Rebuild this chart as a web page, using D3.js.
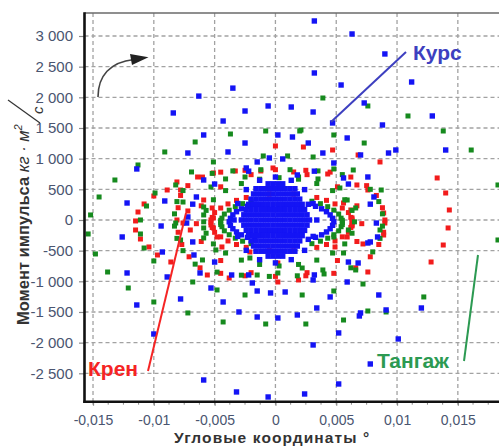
<!DOCTYPE html>
<html>
<head>
<meta charset="utf-8">
<script src="https://cdn.jsdelivr.net/npm/d3@7"></script>
<style>
  html, body { margin: 0; padding: 0; background: #ffffff; }
  svg { display: block; }
  text { font-family: "Liberation Sans", Arial, sans-serif; }
</style>
</head>
<body>
<svg id="chart" width="499" height="446"></svg>
<script>
// Tick values and their printed labels
const xTicks = [-0.015, -0.01, -0.005, 0, 0.005, 0.01, 0.015];
const xTickLabels = ["-0,015", "-0,01", "-0,005", "0", "0,005", "0,01", "0,015"];
const yTicks = [-2500, -2000, -1500, -1000, -500, 0, 500, 1000, 1500, 2000, 2500, 3000];
const yTickLabels = ["-2 500", "-2 000", "-1 500", "-1 000", "-500", "0", "500", "1 000", "1 500", "2 000", "2 500", "3 000"];

const seriesNames = ["Курс", "Крен", "Тангаж"];

// Курс: [angle, angular momentum]
const kursPoints = [
  [0.0032,3245],[0.0063,3033],[0.0090,2707],[0.0032,2397],[0.0054,2201],[0.0112,2250],[0.0073,1908],
  [0.0031,1761],[0.0129,1696],[0.0047,1582],[0.0088,1549],[0.0059,1337],[0.0027,1255],[0.0099,1141],
  [0.0140,1141],[-0.0084,1745],[-0.0043,1614],[-0.0006,1859],[0.0013,1842],[-0.0025,1777],[-0.0059,1386],
  [-0.0025,1255],[0.0002,1386],[0.0014,1353],[-0.0072,1092],[-0.0039,1109],[0.0039,1092],[0.0048,929],
  [0.0070,1060],[0.0093,1092],[-0.0015,946],[-0.0005,1011],[0.0006,995],[-0.0024,848],[-0.0059,652],
  [0.0076,701],[0.0056,685],[0.0018,734],[-0.0065,375],[0.0081,375],[-0.0072,49],[0.0084,-277],
  [-0.0067,-571],[0.0076,-375],[0.0068,-701],[-0.0062,-864],[-0.0036,-897],[0.0059,-1011],[0.0031,-978],
  [-0.0053,-1109],[-0.0019,-1027],[0.0008,-1174],[-0.0015,-1158],[-0.0004,-1190],[-0.0078,-1288],
  [-0.0043,-1337],[0.0085,-1223],[-0.0030,-1500],[0.0034,-1435],[-0.0015,-1582],[0.0002,-1598],
  [0.0018,-1549],[0.0045,-1255],[0.0070,-1516],[0.0091,-1467],
  [-0.0059,-2609],[-0.0032,-2804],[-0.0006,-2886],[0.0024,-2837],[0.0052,-2674],[0.0120,-1435],
  [0.0069,-1565],[0.0052,-1842],[0.0031,-2038],[0.0101,-1940],[0.0078,-2348],
  [-0.0114,832],[-0.0122,277],[-0.0094,-98],[-0.0126,-277],[-0.0093,-522],[-0.0122,-864],[-0.0091,310],
  [-0.0089,-929],[-0.0114,-1386],[-0.0100,-1859],[-0.0063,2020],[-0.0035,2150],
  // inner lens
  [0.0048,-30],[0.0047,27],[0.0045,83],[0.0042,135],[0.0038,182],[0.0033,223],[0.0027,256],
  [-0.0017,256],[-0.0023,223],[-0.0028,182],[-0.0032,135],[-0.0035,83],[-0.0037,27],[-0.0038,-30],
  [-0.0037,-87],[-0.0035,-143],[-0.0032,-195],[-0.0028,-242],[-0.0023,-283],[-0.0017,-316],
  [0.0027,-316],[0.0033,-283],[0.0038,-242],[0.0042,-195],[0.0045,-143],[0.0047,-87],
  // edge of the core
  [0.0034,0],[0.0031,268],[0.0024,495],[0.0013,647],[0,700],[-0.0013,647],[-0.0024,495],[-0.0031,268],
  [-0.0034,0],[-0.0031,-268],[-0.0024,-495],[-0.0013,-647],[0,-700],[0.0013,-647],[0.0024,-495],[0.0031,-268],
  // second loop
  [0.0078,258],[0.0060,586],[0.0032,796],[-0.0022,796],[-0.0050,586],[-0.0068,258],[-0.0068,-358],
  [-0.0050,-686],[-0.0022,-896],[0.0032,-896],[0.0060,-686],[0.0078,-358],[0.0083,-50],[-0.0073,-50]
];

// Курс, dense core around the origin: [momentum, [angles...]]
const kursCoreRows = [
  [590, [-0.0006,-0.0002,0.0002,0.0006]],
  [510, [-0.0016,-0.0012,-0.0008,-0.0004,0,0.0004,0.0008,0.0012,0.0016]],
  [425, [-0.0018,-0.0014,-0.0010,-0.0006,-0.0002,0.0002,0.0006,0.0010,0.0014,0.0018]],
  [340, [-0.0020,-0.0016,-0.0012,-0.0008,-0.0004,0,0.0004,0.0008,0.0012,0.0016,0.0020]],
  [255, [-0.0022,-0.0018,-0.0014,-0.0010,-0.0006,-0.0002,0.0002,0.0006,0.0010,0.0014,0.0018,0.0022]],
  [170, [-0.0024,-0.0020,-0.0016,-0.0012,-0.0008,-0.0004,0,0.0004,0.0008,0.0012,0.0016,0.0020,0.0024]],
  [85, [-0.0026,-0.0022,-0.0018,-0.0014,-0.0010,-0.0006,-0.0002,0.0002,0.0006,0.0010,0.0014,0.0018,0.0022,0.0026]],
  [0, [-0.0028,-0.0024,-0.0020,-0.0016,-0.0012,-0.0008,-0.0004,0,0.0004,0.0008,0.0012,0.0016,0.0020,0.0024,0.0028]],
  [-85, [-0.0026,-0.0022,-0.0018,-0.0014,-0.0010,-0.0006,-0.0002,0.0002,0.0006,0.0010,0.0014,0.0018,0.0022,0.0026]],
  [-170, [-0.0024,-0.0020,-0.0016,-0.0012,-0.0008,-0.0004,0,0.0004,0.0008,0.0012,0.0016,0.0020,0.0024]],
  [-255, [-0.0022,-0.0018,-0.0014,-0.0010,-0.0006,-0.0002,0.0002,0.0006,0.0010,0.0014,0.0018,0.0022]],
  [-340, [-0.0020,-0.0016,-0.0012,-0.0008,-0.0004,0,0.0004,0.0008,0.0012,0.0016,0.0020]],
  [-425, [-0.0018,-0.0014,-0.0010,-0.0006,-0.0002,0.0002,0.0006,0.0010,0.0014,0.0018]],
  [-510, [-0.0016,-0.0012,-0.0008,-0.0004,0,0.0004,0.0008,0.0012,0.0016]],
  [-590, [-0.0006,-0.0002,0.0002,0.0006]]
];

// Крен
const krenPoints = [
  [0.0023,1190],[0.0047,1141],[0,1207],[-0.0051,766],[-0.0033,799],[-0.0012,799],[-0.0002,848],
  [0.0015,783],[0.0043,750],[-0.0081,620],[-0.0064,701],[0.0067,571],[0.0076,489],[0.0086,946],
  [0.0068,1060],[-0.0078,489],[-0.0059,326],[-0.0052,196],[0.0056,277],[0.0062,163],[-0.0051,33],
  [0.0063,33],[-0.0051,-130],[0.0063,-98],[-0.0048,-277],[0.0059,-277],[-0.0044,-440],[0.0049,-440],
  [0.0089,114],[0.0090,-49],[0.0089,-245],[0.0072,-391],[-0.0056,-897],[-0.0038,-946],[-0.0021,-522],
  [0.0002,-701],[0.0019,-978],[0.0002,-1011],[0.0076,-848],[-0.0072,147],[-0.0076,-49],[-0.0070,-163],
  [-0.0089,489],[-0.0108,261],[-0.0113,130],[-0.0115,-16],[-0.0115,-163],[-0.0111,-310],[-0.0104,-440],
  [-0.0100,391],[-0.0097,-571],[-0.0086,-685],
  [0.0133,685],[0.0140,440],[0.0143,163],[0.0142,-130],[0.0138,-408],[0.0128,-685],
  // inner lens
  [0.0063,-40],[0.0063,1],[0.0062,42],[0.0060,121],[0.0055,195],[0.0049,262],[0.0042,320],[0.0034,367],
  [0.0015,423],[-0.0005,423],[-0.0024,367],[-0.0032,320],[-0.0039,262],[-0.0045,195],[-0.0050,121],
  [-0.0052,42],[-0.0053,1],[-0.0053,-40],[-0.0053,-81],[-0.0052,-122],[-0.0050,-201],[-0.0045,-275],
  [-0.0039,-342],[-0.0032,-400],[-0.0024,-447],[-0.0005,-503],[0.0015,-503],[0.0034,-447],[0.0042,-400],
  [0.0049,-342],[0.0055,-275],[0.0060,-201],[0.0062,-122],[0.0063,-81],
  // middle loop
  [0.0071,-60],[0.0067,231],[0.0051,541],[0.0026,739],[-0.0020,739],[-0.0045,541],[-0.0061,231],
  [-0.0065,-60],[-0.0061,-351],[-0.0045,-661],[-0.0020,-859],[0.0026,-859],[0.0051,-661],[0.0067,-351],
  // outer loop
  [-0.0060,700],[-0.0045,780],[-0.0025,810],[0,820],[0.0025,810],[0.0045,780],[0.0062,700],
  [-0.0072,560],[-0.0078,400],[-0.0080,200],[-0.0081,0],[-0.0080,-200],[-0.0077,-400],[-0.0071,-600],
  [0.0075,560],[0.0083,400],[0.0088,200],[0.0090,0],[0.0089,-200],[0.0085,-400],[0.0078,-600],
  [-0.0062,-780],[-0.0045,-870],[-0.0025,-910],[0,-920],[0.0025,-910],[0.0048,-870],[0.0066,-780]
];

// Тангаж
const tangazhPoints = [
  [0.0039,1989],[0.0076,1859],[0.0109,1696],[0.0138,1451],[0.0048,1386],[0.0073,1255],[0.0161,1141],
  [0.0021,1467],[-0.0037,1402],[-0.0008,1451],[0.0020,1451],[-0.0066,1272],[-0.0051,946],[0.0064,815],
  [-0.0010,1044],[0.0010,1044],[0.0031,1027],[-0.0069,783],[-0.0041,669],[-0.0025,701],[0.0019,701],
  [0.0035,669],[0.0048,832],[0.0087,489],[-0.0082,571],[-0.0053,538],[0.0053,522],[-0.0076,293],
  [-0.0059,212],[0.0059,326],[0.0066,196],[-0.0082,-49],[-0.0059,82],[-0.0059,-130],[0.0060,-163],
  [0.0086,-163],[-0.0078,-326],[-0.0059,-293],[0.0048,-277],[-0.0049,-489],[0.0056,-538],[-0.0060,-652],
  [0.0039,-815],[-0.0021,-620],[0.0066,-815],[-0.0068,-1011],[-0.0015,-897],[0.0002,-864],[0.0022,-783],
  [-0.0048,-1141],[0.0048,-1158],[-0.0025,-1223],[0.0022,-1223],[0.0072,-1044],[-0.0072,-1516],
  [-0.0008,-1696],[-0.0043,-1663],[0.0056,-1631],[0.0076,-1484],[0.0122,-1255],[0.0091,-1500],
  [0.0025,-1696],
  [-0.0113,897],[-0.0091,1109],[-0.0132,652],[-0.0145,375],[-0.0106,228],[-0.0152,82],[-0.0111,0],
  [-0.0154,-228],[-0.0111,-228],[-0.0108,-457],[-0.0148,-554],[-0.0099,440],[-0.0100,-668],
  [-0.0138,-848],[-0.0121,-1109],[-0.0100,-1337],
  [0.0183,571],[0.0183,-326],
  // inner lens
  [0.0055,-40],[0.0055,-5],[0.0054,30],[0.0052,97],[0.0048,160],[0.0043,217],[0.0037,266],[0.0030,306],
  [-0.0020,306],[-0.0027,266],[-0.0033,217],[-0.0038,160],[-0.0042,97],[-0.0044,30],[-0.0045,-5],
  [-0.0045,-40],[-0.0045,-75],[-0.0044,-110],[-0.0042,-177],[-0.0038,-240],[-0.0033,-297],[-0.0027,-346],
  [-0.0020,-386],[0.0030,-386],[0.0037,-346],[0.0043,-297],[0.0048,-240],[0.0052,-177],[0.0054,-110],
  [0.0055,-75],
  // middle loop
  [0.0065,-30],[0.0063,156],[0.0057,330],[0.0047,479],[0.0034,594],[0.0019,665],[0.0003,690],
  [-0.0013,665],[-0.0028,594],[-0.0041,479],[-0.0051,330],[-0.0057,156],[-0.0059,-30],[-0.0057,-216],
  [-0.0051,-390],[-0.0041,-539],[-0.0028,-654],[-0.0013,-725],[0.0003,-750],[0.0019,-725],[0.0034,-654],
  [0.0047,-539],[0.0057,-390],[0.0063,-216],
  // outer loop
  [-0.0052,760],[-0.0035,800],[-0.0012,820],[0.0012,820],[0.0035,800],[0.0055,740],
  [-0.0076,480],[-0.0081,300],[-0.0083,100],[-0.0083,-100],[-0.0081,-300],[-0.0076,-500],
  [0.0078,500],[0.0085,300],[0.0088,100],[0.0088,-100],[0.0086,-300],[0.0080,-520],
  [-0.0066,-720],[-0.0048,-850],[-0.0028,-900],[-0.0005,-920],[0.0018,-910],[0.0040,-880],[0.0062,-780]
];

const colors = { "Курс": "#1414f5", "Крен": "#f21c1c", "Тангаж": "#168a1e" };
const labelColors = { "Курс": "#3d3fc0", "Крен": "#f52424", "Тангаж": "#2c9a52" };
const fontFamily = "'Liberation Sans', Arial, sans-serif";

const svg = d3.select("#chart");
const plot = { left: 84.5, top: 13, right: 515, bottom: 401.7 };

const x = d3.scaleLinear().domain([-0.0157, 0.0197]).range([plot.left, plot.right]);
const y = d3.scaleLinear().domain([-2963, 3375]).range([plot.bottom, plot.top]);

svg.append("defs").append("clipPath").attr("id", "plotClip")
  .append("rect")
  .attr("x", plot.left).attr("y", plot.top)
  .attr("width", plot.right - plot.left).attr("height", plot.bottom - plot.top);

// dashed grid
const grid = svg.append("g").attr("stroke", "#a2a2a2").attr("stroke-width", 1.3)
  .attr("stroke-dasharray", "4,3");
grid.selectAll("line.v").data(xTicks).join("line").attr("class", "v")
  .attr("x1", d => x(d)).attr("x2", d => x(d))
  .attr("y1", plot.top).attr("y2", plot.bottom);
grid.selectAll("line.h").data(yTicks).join("line").attr("class", "h")
  .attr("x1", plot.left).attr("x2", plot.right)
  .attr("y1", d => y(d)).attr("y2", d => y(d));

// markers
const kursAll = kursPoints.concat(kursCoreRows.flatMap(([m, xs]) => xs.map(a => [a, m])));
const series = [
  { name: "Крен", pts: krenPoints, size: 5 },
  { name: "Тангаж", pts: tangazhPoints, size: 5 },
  { name: "Курс", pts: kursAll, size: 5.4 }
];
const marks = svg.append("g").attr("clip-path", "url(#plotClip)");
series.forEach(s => {
  marks.append("g").attr("fill", colors[s.name])
    .selectAll("rect").data(s.pts).join("rect")
    .attr("x", d => x(d[0]) - s.size / 2)
    .attr("y", d => y(d[1]) - s.size / 2)
    .attr("width", s.size).attr("height", s.size);
});

// axes
const tickColor = "#4a5570";
const yAxis = svg.append("g").attr("transform", `translate(${plot.left - 0.5},0)`)
  .call(d3.axisLeft(y).tickValues(yTicks).tickFormat((d, i) => yTickLabels[i])
    .tickSize(5).tickPadding(6));
yAxis.attr("font-size", 15).attr("font-family", fontFamily);
yAxis.select(".domain").remove();
yAxis.selectAll(".tick line").attr("stroke", "#8a8a8a").attr("stroke-width", 1.2);
yAxis.selectAll(".tick text").attr("fill", tickColor).attr("font-size", 15);

const xAxis = svg.append("g").attr("transform", `translate(0,${plot.bottom})`)
  .call(d3.axisBottom(x).tickValues(xTicks).tickFormat((d, i) => xTickLabels[i])
    .tickSize(4).tickPadding(9));
xAxis.attr("font-size", 14).attr("font-family", fontFamily);
xAxis.select(".domain").remove();
xAxis.selectAll(".tick line").attr("stroke", "#8a8a8a").attr("stroke-width", 1.2);
xAxis.selectAll(".tick text").attr("fill", tickColor).attr("font-size", 14);

// minor ticks along the bottom
const minor = d3.range(-0.015, 0.0196, 0.00125);
svg.append("g").attr("stroke", "#8a8a8a").attr("stroke-width", 1)
  .selectAll("line").data(minor).join("line")
  .attr("x1", d => x(d)).attr("x2", d => x(d))
  .attr("y1", plot.bottom).attr("y2", plot.bottom + 3);

// frame
svg.append("line").attr("x1", plot.left).attr("x2", 499).attr("y1", plot.top).attr("y2", plot.top)
  .attr("stroke", "#6a6a6a").attr("stroke-width", 1.5);
svg.append("line").attr("x1", plot.left).attr("x2", plot.left).attr("y1", plot.top - 0.7).attr("y2", plot.bottom + 1.2)
  .attr("stroke", "#111").attr("stroke-width", 2.6);
svg.append("line").attr("x1", plot.left - 1.2).attr("x2", 499).attr("y1", plot.bottom).attr("y2", plot.bottom)
  .attr("stroke", "#111").attr("stroke-width", 2.6);

// axis titles
svg.append("text").attr("x", 174).attr("y", 442.5)
  .attr("font-size", 15.5).attr("font-weight", "bold").attr("letter-spacing", 1.1).attr("fill", "#333")
  .text("Угловые координаты °");

const yt = svg.append("text").attr("transform", "translate(29,325) rotate(-90)")
  .attr("fill", "#333").attr("font-size", 16.5);
yt.append("tspan").attr("font-weight", "bold").text("Момент импульса ");
yt.append("tspan").attr("font-style", "italic").text("кг · м");
yt.append("tspan").attr("dy", -7).attr("font-size", 11).attr("font-style", "italic").text("2");
svg.append("line").attr("x1", 8).attr("y1", 100).attr("x2", 40).attr("y2", 123)
  .attr("stroke", "#333").attr("stroke-width", 1.2);
svg.append("text").attr("transform", "translate(43,114) rotate(-90)")
  .attr("fill", "#333").attr("font-size", 15).attr("font-style", "italic").text("с");

// rotation arrow
svg.append("path").attr("d", "M98,97 C98,76 110,62 134,59.5")
  .attr("fill", "none").attr("stroke", "#444").attr("stroke-width", 1.6);
svg.append("path").attr("d", "M130,54 L148.5,57.3 L132,65 Z").attr("fill", "#222");

// series callouts
const callouts = [
  { name: "Курс", line: [[331, 122], [406, 52]], text: [413, 60] },
  { name: "Крен", line: [[148, 371], [186, 213]], text: [88, 376] },
  { name: "Тангаж", line: [[464, 361], [478, 255]], text: [377, 368] }
];
callouts.forEach(c => {
  svg.append("line")
    .attr("x1", c.line[0][0]).attr("y1", c.line[0][1])
    .attr("x2", c.line[1][0]).attr("y2", c.line[1][1])
    .attr("stroke", labelColors[c.name]).attr("stroke-width", 2);
  svg.append("text").attr("x", c.text[0]).attr("y", c.text[1])
    .attr("fill", labelColors[c.name]).attr("font-size", 21).attr("font-weight", "bold")
    .text(c.name);
});
</script>
</body>
</html>
